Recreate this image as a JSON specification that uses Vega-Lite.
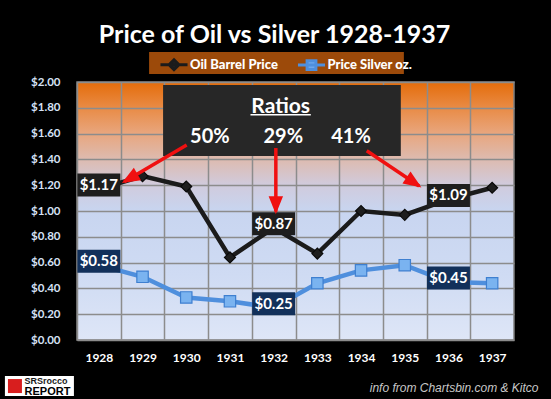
{
  "$schema": "https://vega.github.io/schema/vega-lite/v6.json",
  "width": 437,
  "height": 258,
  "autosize": {"type": "none"},
  "padding": {"left": 77, "top": 82, "right": 37, "bottom": 59},
  "background": "#000000",
  "view": {
    "fill": {
      "gradient": "linear", "x1": 0, "y1": 0, "x2": 0, "y2": 1,
      "stops": [
        {"offset": 0, "color": "#E46C0A"},
        {"offset": 0.1, "color": "#E98B45"},
        {"offset": 0.2, "color": "#E8A67E"},
        {"offset": 0.3, "color": "#DDBBB0"},
        {"offset": 0.4, "color": "#D0CBDD"},
        {"offset": 0.5, "color": "#C8D5F0"},
        {"offset": 0.75, "color": "#CFDBF3"},
        {"offset": 1, "color": "#DEE6F7"}
      ]
    },
    "stroke": "#808080",
    "strokeWidth": 1.5
  },
  "title": {
    "text": "Price of Oil vs Silver 1928-1937",
    "color": "#FFFFFF",
    "font": "Lato",
    "fontSize": 25,
    "fontWeight": "bold",
    "anchor": "middle",
    "frame": "group",
    "dx": -21
  },
  "datasets": {
    "prices": [
      {"year": 1928, "series": "Oil Barrel Price", "price": 1.17},
      {"year": 1929, "series": "Oil Barrel Price", "price": 1.27},
      {"year": 1930, "series": "Oil Barrel Price", "price": 1.19},
      {"year": 1931, "series": "Oil Barrel Price", "price": 0.64},
      {"year": 1932, "series": "Oil Barrel Price", "price": 0.87},
      {"year": 1933, "series": "Oil Barrel Price", "price": 0.67},
      {"year": 1934, "series": "Oil Barrel Price", "price": 1.0},
      {"year": 1935, "series": "Oil Barrel Price", "price": 0.97},
      {"year": 1936, "series": "Oil Barrel Price", "price": 1.09},
      {"year": 1937, "series": "Oil Barrel Price", "price": 1.18},
      {"year": 1928, "series": "Price Silver oz.", "price": 0.58},
      {"year": 1929, "series": "Price Silver oz.", "price": 0.49},
      {"year": 1930, "series": "Price Silver oz.", "price": 0.33},
      {"year": 1931, "series": "Price Silver oz.", "price": 0.3},
      {"year": 1932, "series": "Price Silver oz.", "price": 0.25},
      {"year": 1933, "series": "Price Silver oz.", "price": 0.44},
      {"year": 1934, "series": "Price Silver oz.", "price": 0.54},
      {"year": 1935, "series": "Price Silver oz.", "price": 0.58},
      {"year": 1936, "series": "Price Silver oz.", "price": 0.45},
      {"year": 1937, "series": "Price Silver oz.", "price": 0.44}
    ],
    "legendbox": [{"x1": 1929.15, "x2": 1934.98, "y1": 2.062, "y2": 2.233}],
    "box": [{"x1": 1929.47, "x2": 1934.91, "y1": 1.426, "y2": 1.977}],
    "heading": [{"label": "Ratios", "x": 1932.16, "y": 1.762}],
    "underline": [{"x": 1931.47, "x2": 1932.85, "y": 1.746}],
    "ratios": [
      {"label": "50%", "x": 1930.54, "y": 1.53},
      {"label": "29%", "x": 1932.22, "y": 1.53},
      {"label": "41%", "x": 1933.77, "y": 1.53}
    ],
    "arrows": [
      {"id": 1, "x": 1930.01, "y": 1.512, "x2": 1928.58, "y2": 1.227},
      {"id": 2, "x": 1932.05, "y": 1.488, "x2": 1932.05, "y2": 0.995},
      {"id": 3, "x": 1934.13, "y": 1.467, "x2": 1935.33, "y2": 1.194}
    ],
    "logo": [{"x": 1926.64, "y": -0.357}],
    "logoicon": [{"x": 1926.08, "y": -0.357}],
    "logotop": [{"t": "SRSrocco", "x": 1926.3, "y": -0.315}],
    "logobottom": [{"t": "REPORT", "x": 1926.3, "y": -0.4}]
  },
  "layer": [
    {
      "data": {"name": "legendbox"},
      "mark": {"type": "rect", "color": "#9C4A0A", "opacity": 1},
      "encoding": {
        "x": {
          "field": "x1", "type": "quantitative",
          "scale": {"domain": [1927.5, 1937.5], "nice": false, "zero": false},
          "axis": {
            "values": [1927.5, 1928.5, 1929.5, 1930.5, 1931.5, 1932.5, 1933.5, 1934.5, 1935.5, 1936.5],
            "tickCount": 20,
            "labelExpr": "format(datum.value + 0.5, 'd')",
            "labelOffset": 21.85,
            "labelFlush": false,
            "labelOverlap": false,
            "labelBound": false,
            "labelColor": "#FFFFFF",
            "labelFont": "Lato",
            "labelFontSize": 12,
            "labelFontWeight": "bold",
            "labelPadding": 12,
            "ticks": false,
            "domain": false,
            "grid": true,
            "gridColor": "#8C8C8C",
            "gridWidth": 1.5,
            "title": "info from Chartsbin.com & Kitco",
            "titleFont": "Liberation Sans",
            "titleFontStyle": "italic",
            "titleFontWeight": "normal",
            "titleFontSize": 12,
            "titleColor": "#C8C8C8",
            "titleX": 461,
            "titleY": 47,
            "titleAlign": "right",
            "titleBaseline": "middle",
            "titleAnchor": null
          }
        },
        "x2": {"field": "x2"},
        "y": {
          "field": "y1", "type": "quantitative",
          "scale": {"domain": [0, 2], "nice": false},
          "axis": {
            "values": [0, 0.2, 0.4, 0.6, 0.8, 1.0, 1.2, 1.4, 1.6, 1.8, 2.0],
            "tickCount": 20,
            "format": "$.2f",
            "labelOverlap": false,
            "labelBound": false,
            "labelFlush": false,
            "labelColor": "#D6E2F6",
            "labelFont": "Lato",
            "labelFontSize": 11.5,
            "labelFontWeight": "bold",
            "labelPadding": 17,
            "ticks": false,
            "domain": false,
            "grid": true,
            "gridColor": "#8C8C8C",
            "gridWidth": 1.5,
            "title": null
          }
        },
        "y2": {"field": "y2"}
      }
    },
    {
      "data": {"name": "prices"},
      "mark": {"type": "line", "strokeWidth": 4.5},
      "encoding": {
        "x": {"field": "year", "type": "quantitative"},
        "y": {"field": "price", "type": "quantitative"},
        "color": {
          "field": "series", "type": "nominal",
          "scale": {"domain": ["Oil Barrel Price", "Price Silver oz."], "range": ["#1B1B1B", "#4F8FDD"]},
          "legend": {
            "orient": "none",
            "legendX": 84.5,
            "legendY": -30,
            "direction": "horizontal",
            "title": null,
            "padding": 0,
            "labelColor": "#FFFFFF",
            "labelFont": "Lato",
            "labelFontSize": 13,
            "labelFontWeight": 900,
            "labelOffset": 3.5,
            "symbolSize": 484,
            "symbolStrokeWidth": 3,
            "columnPadding": 12.5,
            "encode": {
              "symbols": {
                "update": {
                  "shape": {"signal": "datum.value === 'Oil Barrel Price' ? 'M-1.23,0L1.23,0M0,-0.45L0.45,0L0,0.45L-0.45,0Z' : 'M-1.23,0L1.23,0M-0.4,-0.4L0.4,-0.4L0.4,0.4L-0.4,0.4Z'"},
                  "fill": {"signal": "datum.value === 'Oil Barrel Price' ? '#222222' : '#6FA8EC'"},
                  "stroke": {"signal": "datum.value === 'Oil Barrel Price' ? '#222222' : '#4A8AD8'"},
                  "strokeWidth": {"value": 3},
                  "opacity": {"value": 1},
                  "fillOpacity": {"value": 1},
                  "strokeOpacity": {"value": 1}
                }
              }
            }
          }
        }
      }
    },
    {
      "data": {"name": "prices"},
      "transform": [{"filter": "datum.series === 'Oil Barrel Price'"}],
      "mark": {"type": "point", "shape": "diamond", "filled": true, "size": 120, "fill": "#1E1E1E", "stroke": "#0A0A0A", "strokeWidth": 1.2, "opacity": 1},
      "encoding": {
        "x": {"field": "year", "type": "quantitative"},
        "y": {"field": "price", "type": "quantitative"}
      }
    },
    {
      "data": {"name": "prices"},
      "transform": [{"filter": "datum.series === 'Price Silver oz.'"}],
      "mark": {"type": "point", "shape": "square", "filled": true, "size": 130, "fill": "#7AB3F0", "stroke": "#3E7FD0", "strokeWidth": 1.2, "opacity": 1},
      "encoding": {
        "x": {"field": "year", "type": "quantitative"},
        "y": {"field": "price", "type": "quantitative"}
      }
    },
    {
      "data": {"name": "prices"},
      "transform": [{"filter": "datum.year === 1928 || datum.year === 1932 || datum.year === 1936"}],
      "mark": {"type": "point", "filled": true, "size": 1849, "shape": "M-1,-0.535L1,-0.535L1,0.535L-1,0.535Z", "yOffset": -4, "opacity": 1, "strokeWidth": 0},
      "encoding": {
        "x": {"field": "year", "type": "quantitative"},
        "y": {"field": "price", "type": "quantitative"},
        "fill": {"condition": {"test": "datum.series === 'Oil Barrel Price'", "value": "#1E1E1E"}, "value": "#12305A"}
      }
    },
    {
      "data": {"name": "prices"},
      "transform": [{"filter": "datum.year === 1928 || datum.year === 1932 || datum.year === 1936"}],
      "mark": {"type": "text", "color": "#FFFFFF", "font": "Lato", "fontSize": 15, "fontWeight": "bold", "baseline": "middle", "align": "center", "yOffset": -4},
      "encoding": {
        "x": {"field": "year", "type": "quantitative"},
        "y": {"field": "price", "type": "quantitative"},
        "text": {"field": "price", "type": "quantitative", "format": "$.2f"}
      }
    },
    {
      "data": {"name": "box"},
      "mark": {"type": "rect", "color": "#272727", "opacity": 1},
      "encoding": {
        "x": {"field": "x1", "type": "quantitative"},
        "x2": {"field": "x2"},
        "y": {"field": "y1", "type": "quantitative"},
        "y2": {"field": "y2"}
      }
    },
    {
      "data": {"name": "heading"},
      "mark": {"type": "text", "color": "#FFFFFF", "font": "Lato", "fontSize": 21, "fontWeight": "bold", "baseline": "alphabetic", "align": "center"},
      "encoding": {
        "x": {"field": "x", "type": "quantitative"},
        "y": {"field": "y", "type": "quantitative"},
        "text": {"field": "label"}
      }
    },
    {
      "data": {"name": "underline"},
      "mark": {"type": "rule", "color": "#FFFFFF", "strokeWidth": 1.5},
      "encoding": {
        "x": {"field": "x", "type": "quantitative"},
        "x2": {"field": "x2"},
        "y": {"field": "y", "type": "quantitative"}
      }
    },
    {
      "data": {"name": "ratios"},
      "mark": {"type": "text", "color": "#FFFFFF", "font": "Lato", "fontSize": 20, "fontWeight": "bold", "baseline": "alphabetic", "align": "center"},
      "encoding": {
        "x": {"field": "x", "type": "quantitative"},
        "y": {"field": "y", "type": "quantitative"},
        "text": {"field": "label"}
      }
    },
    {
      "data": {"name": "arrows"},
      "mark": {"type": "rule", "color": "#F01010", "strokeWidth": 3.5},
      "encoding": {
        "x": {"field": "x", "type": "quantitative"},
        "y": {"field": "y", "type": "quantitative"},
        "x2": {"field": "x2"},
        "y2": {"field": "y2"}
      }
    },
    {
      "data": {"name": "arrows"},
      "transform": [{"filter": "datum.id === 1"}],
      "mark": {"type": "point", "filled": true, "color": "#F01010", "opacity": 1, "size": 324, "shape": "M0,-0.3L-0.8,1.7L0.8,1.7Z", "angle": 240},
      "encoding": {
        "x": {"field": "x2", "type": "quantitative"},
        "y": {"field": "y2", "type": "quantitative"}
      }
    },
    {
      "data": {"name": "arrows"},
      "transform": [{"filter": "datum.id === 2"}],
      "mark": {"type": "point", "filled": true, "color": "#F01010", "opacity": 1, "size": 324, "shape": "M0,-0.3L-0.8,1.7L0.8,1.7Z", "angle": 180},
      "encoding": {
        "x": {"field": "x2", "type": "quantitative"},
        "y": {"field": "y2", "type": "quantitative"}
      }
    },
    {
      "data": {"name": "arrows"},
      "transform": [{"filter": "datum.id === 3"}],
      "mark": {"type": "point", "filled": true, "color": "#F01010", "opacity": 1, "size": 324, "shape": "M0,-0.3L-0.8,1.7L0.8,1.7Z", "angle": 124},
      "encoding": {
        "x": {"field": "x2", "type": "quantitative"},
        "y": {"field": "y2", "type": "quantitative"}
      }
    },
    {
      "data": {"name": "logo"},
      "mark": {"type": "point", "filled": true, "color": "#FFFFFF", "opacity": 1, "size": 4761, "shape": "M-1,-0.29L1,-0.29L1,0.29L-1,0.29Z"},
      "encoding": {
        "x": {"field": "x", "type": "quantitative"},
        "y": {"field": "y", "type": "quantitative"}
      }
    },
    {
      "data": {"name": "logoicon"},
      "mark": {"type": "point", "filled": true, "color": "#D81E1E", "opacity": 1, "size": 196, "shape": "square"},
      "encoding": {
        "x": {"field": "x", "type": "quantitative"},
        "y": {"field": "y", "type": "quantitative"}
      }
    },
    {
      "data": {"name": "logotop"},
      "mark": {"type": "text", "color": "#1A1A1A", "font": "Liberation Sans", "fontSize": 9, "fontWeight": "bold", "align": "left", "baseline": "middle"},
      "encoding": {
        "x": {"field": "x", "type": "quantitative"},
        "y": {"field": "y", "type": "quantitative"},
        "text": {"field": "t"}
      }
    },
    {
      "data": {"name": "logobottom"},
      "mark": {"type": "text", "color": "#000000", "font": "Liberation Sans", "fontSize": 11, "fontWeight": "bold", "align": "left", "baseline": "middle"},
      "encoding": {
        "x": {"field": "x", "type": "quantitative"},
        "y": {"field": "y", "type": "quantitative"},
        "text": {"field": "t"}
      }
    }
  ]
}
